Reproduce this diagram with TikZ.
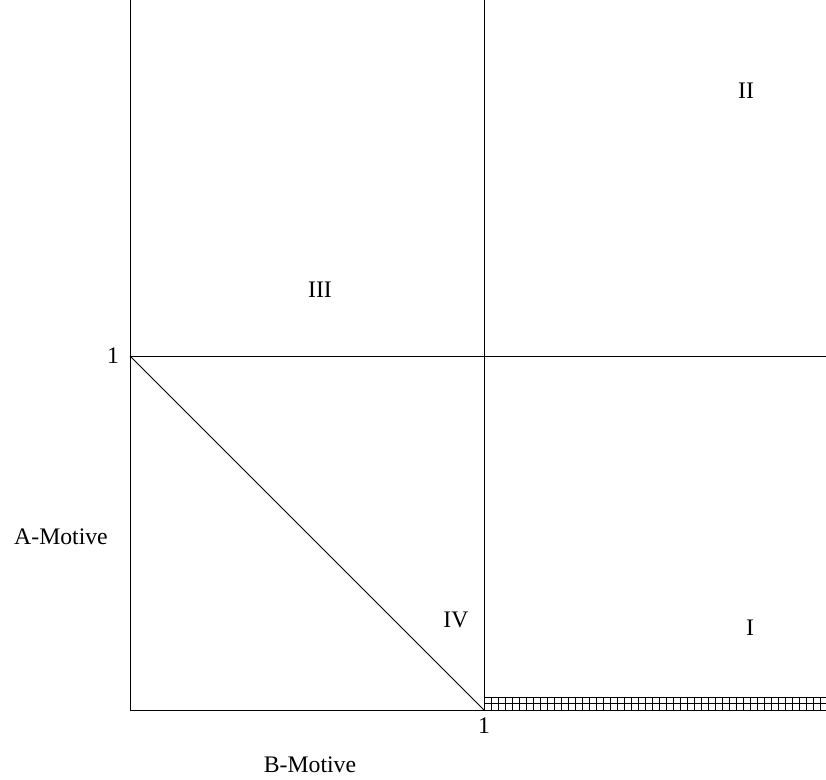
\documentclass[tikz,border=0pt]{standalone}
\usepackage{fontspec}
\setmainfont{Liberation Serif}
\usepackage{tikz}
\usetikzlibrary{positioning,calc}
\tikzset{
  ax/.style    = {draw=black, line width=0.55pt},
  lbl/.style   = {inner sep=1pt, font=\fontsize{13.5}{16}\selectfont},
  grd/.style   = {draw=black, line width=0.55pt},
}

\begin{document}
\begin{tikzpicture}[x=0.02cm, y=-0.02cm]
    \useasboundingbox (0,0) rectangle (826,780);
    % corners of the two unit squares
    \coordinate (o)  at (130,710);
    \coordinate (b1) at (484,710);
    \coordinate (a1) at (130,356);
    \coordinate (m)  at (484,356);
    \draw[ax] (130,0) -- (o) -- (826,710);
    \draw[ax] (484,0) -- (b1);
    \draw[ax] (a1) -- (826,356);
    \draw[ax] (a1) -- (b1);
    % hatched strip along the B axis
    \draw[grd] (484,697) -- (826,697);
    \draw[grd] (484,703.5) -- (826,703.5);
    \foreach \i in {0,...,48}
      \draw[grd] (484+7*\i,697) -- (484+7*\i,710);
    \node[lbl, left=5pt of a1] (one-a) {1};
    \node[lbl, below=3pt of b1] (one-b) {1};
    \node[lbl] (amot) at (61,537) {A-Motive};
    \node[lbl] (bmot) at (310,765) {B-Motive};
    \node[lbl] (r3) at (320,290) {III};
    \node[lbl] (r2) at (746,91) {II};
    \node[lbl] (r4) at (456,620) {IV};
    \node[lbl] (r1) at (750,628) {I};
\end{tikzpicture}
\end{document}
